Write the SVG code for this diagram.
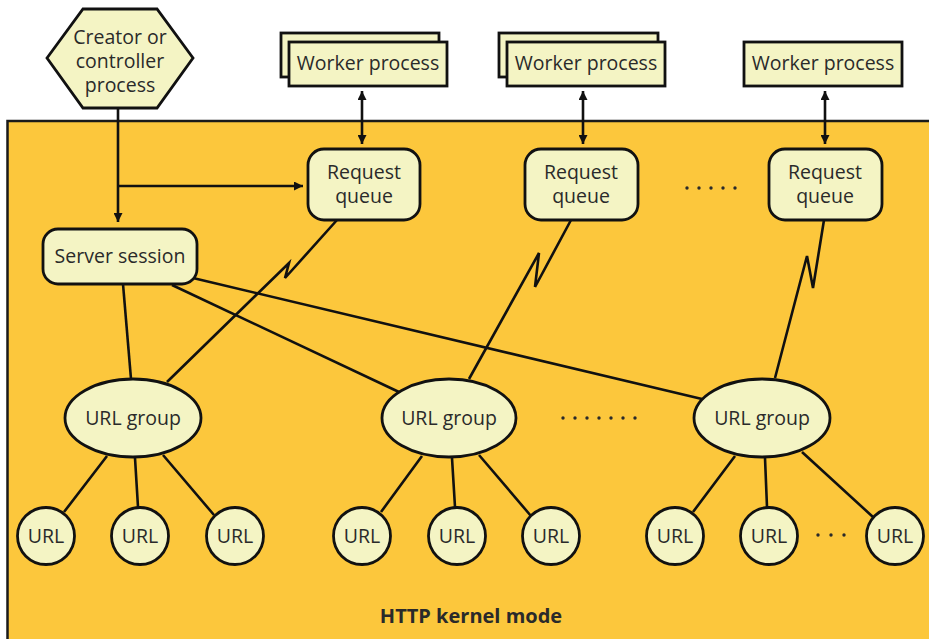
<svg xmlns="http://www.w3.org/2000/svg" width="929" height="639" viewBox="0 0 929 639">
<defs>
<marker id="arr" viewBox="0 0 10 10" markerWidth="9" markerHeight="9" markerUnits="userSpaceOnUse" refX="10" refY="5" orient="auto-start-reverse">
<path d="M0,0 L10,5 L0,10 z" fill="#111"/>
</marker>
</defs>
<style>
.panel{fill:#FCC73C;stroke:#1a1a1a;stroke-width:2.5}
.node{fill:#F4F4C4;stroke:#111;stroke-width:2.8}
.ln{fill:none;stroke:#111;stroke-width:2.6;stroke-linejoin:miter}
.t{font-family:"Open Sans","Noto Sans",sans-serif;font-size:19.5px;fill:#2a2a2a;text-anchor:middle}
.b{font-family:"Open Sans","Noto Sans",sans-serif;font-size:20px;font-weight:bold;fill:#2a2a2a;text-anchor:middle}
.dot{fill:#2a2a2a}
</style>
<rect class="panel" x="7.5" y="121" width="940" height="540"/>
<text class="b" x="471" y="623">HTTP kernel mode</text>
<g id="connectors">
<path class="ln" d="M118,108 V222" marker-end="url(#arr)"/>
<path class="ln" d="M118,186 H303" marker-end="url(#arr)"/>
<path class="ln" d="M362,91 V144" marker-start="url(#arr)" marker-end="url(#arr)"/>
<path class="ln" d="M583,91 V144" marker-start="url(#arr)" marker-end="url(#arr)"/>
<path class="ln" d="M825,91 V144" marker-start="url(#arr)" marker-end="url(#arr)"/>
<path class="ln" d="M337,220 L285,278 L289,263 L167,382"/>
<path class="ln" d="M571,220 L535,287 L539,253 L469,379"/>
<path class="ln" d="M824,220 L813,288 L807,256 L775,378"/>
<path class="ln" d="M123,284 L131,379"/>
<path class="ln" d="M172,285 L399,392"/>
<path class="ln" d="M193,278 L702,399"/>
<path class="ln" d="M107,456 L64,512 M135,458 L138,507 M163,455 L214,515"/>
<path class="ln" d="M422,456 L381,512 M452,458 L455,507 M479,455 L531,516"/>
<path class="ln" d="M735,456 L693,512 M765,458 L767,507 M802,452 L873,517"/>
</g>
<g id="creator">
<polygon class="node" points="47,58 83,9 157,9 193,58 157,108 83,108"/>
<text class="t" x="120" y="44">Creator or</text>
<text class="t" x="120" y="68">controller</text>
<text class="t" x="120" y="92">process</text>
</g>
<g id="worker1">
<rect class="node" x="281" y="33" width="158" height="44"/>
<rect class="node" x="289" y="42" width="158" height="44"/>
<text class="t" x="368" y="70">Worker process</text>
</g>
<g id="worker2">
<rect class="node" x="499" y="33" width="159" height="44"/>
<rect class="node" x="507" y="42" width="158" height="44"/>
<text class="t" x="586" y="70">Worker process</text>
</g>
<g id="worker3">
<rect class="node" x="744" y="42" width="158" height="44"/>
<text class="t" x="823" y="70">Worker process</text>
</g>
<g id="rq1">
<rect class="node" x="308" y="149" width="112" height="71" rx="16"/>
<text class="t" x="364" y="179">Request</text>
<text class="t" x="364" y="203">queue</text>
</g>
<g id="rq2">
<rect class="node" x="525" y="149" width="113" height="71" rx="16"/>
<text class="t" x="581" y="179">Request</text>
<text class="t" x="581" y="203">queue</text>
</g>
<g id="rq3">
<rect class="node" x="769" y="149" width="113" height="71" rx="16"/>
<text class="t" x="825" y="179">Request</text>
<text class="t" x="825" y="203">queue</text>
</g>
<g id="rqdots">
<circle class="dot" cx="687" cy="188" r="1.7"/><circle class="dot" cx="699" cy="188" r="1.7"/><circle class="dot" cx="711" cy="188" r="1.7"/><circle class="dot" cx="723" cy="188" r="1.7"/><circle class="dot" cx="735" cy="188" r="1.7"/>
</g>
<g id="server-session">
<rect class="node" x="43" y="229" width="154" height="55" rx="15"/>
<text class="t" x="120" y="263">Server session</text>
</g>
<g id="ug1">
<ellipse class="node" cx="133" cy="418" rx="68" ry="39"/>
<text class="t" x="133" y="425">URL group</text>
</g>
<g id="ug2">
<ellipse class="node" cx="449" cy="418" rx="67" ry="39"/>
<text class="t" x="449" y="425">URL group</text>
</g>
<g id="ug3">
<ellipse class="node" cx="762" cy="418" rx="68" ry="39"/>
<text class="t" x="762" y="425">URL group</text>
</g>
<g id="ugdots">
<circle class="dot" cx="563" cy="418" r="1.7"/><circle class="dot" cx="575" cy="418" r="1.7"/><circle class="dot" cx="587" cy="418" r="1.7"/><circle class="dot" cx="599" cy="418" r="1.7"/><circle class="dot" cx="611" cy="418" r="1.7"/><circle class="dot" cx="623" cy="418" r="1.7"/><circle class="dot" cx="635" cy="418" r="1.7"/>
</g>
<g id="url1"><circle class="node" cx="46" cy="536" r="28.5"/><text class="t" x="46" y="543">URL</text></g>
<g id="url2"><circle class="node" cx="140" cy="536" r="28.5"/><text class="t" x="140" y="543">URL</text></g>
<g id="url3"><circle class="node" cx="235" cy="536" r="28.5"/><text class="t" x="235" y="543">URL</text></g>
<g id="url4"><circle class="node" cx="362" cy="536" r="28.5"/><text class="t" x="362" y="543">URL</text></g>
<g id="url5"><circle class="node" cx="457" cy="536" r="28.5"/><text class="t" x="457" y="543">URL</text></g>
<g id="url6"><circle class="node" cx="551" cy="536" r="28.5"/><text class="t" x="551" y="543">URL</text></g>
<g id="url7"><circle class="node" cx="675" cy="536" r="28.5"/><text class="t" x="675" y="543">URL</text></g>
<g id="url8"><circle class="node" cx="769" cy="536" r="28.5"/><text class="t" x="769" y="543">URL</text></g>
<g id="url9"><circle class="node" cx="895" cy="536" r="28.5"/><text class="t" x="895" y="543">URL</text></g>
<g id="urldots">
<circle class="dot" cx="818" cy="535" r="1.7"/><circle class="dot" cx="831" cy="535" r="1.7"/><circle class="dot" cx="844" cy="535" r="1.7"/>
</g>
</svg>
